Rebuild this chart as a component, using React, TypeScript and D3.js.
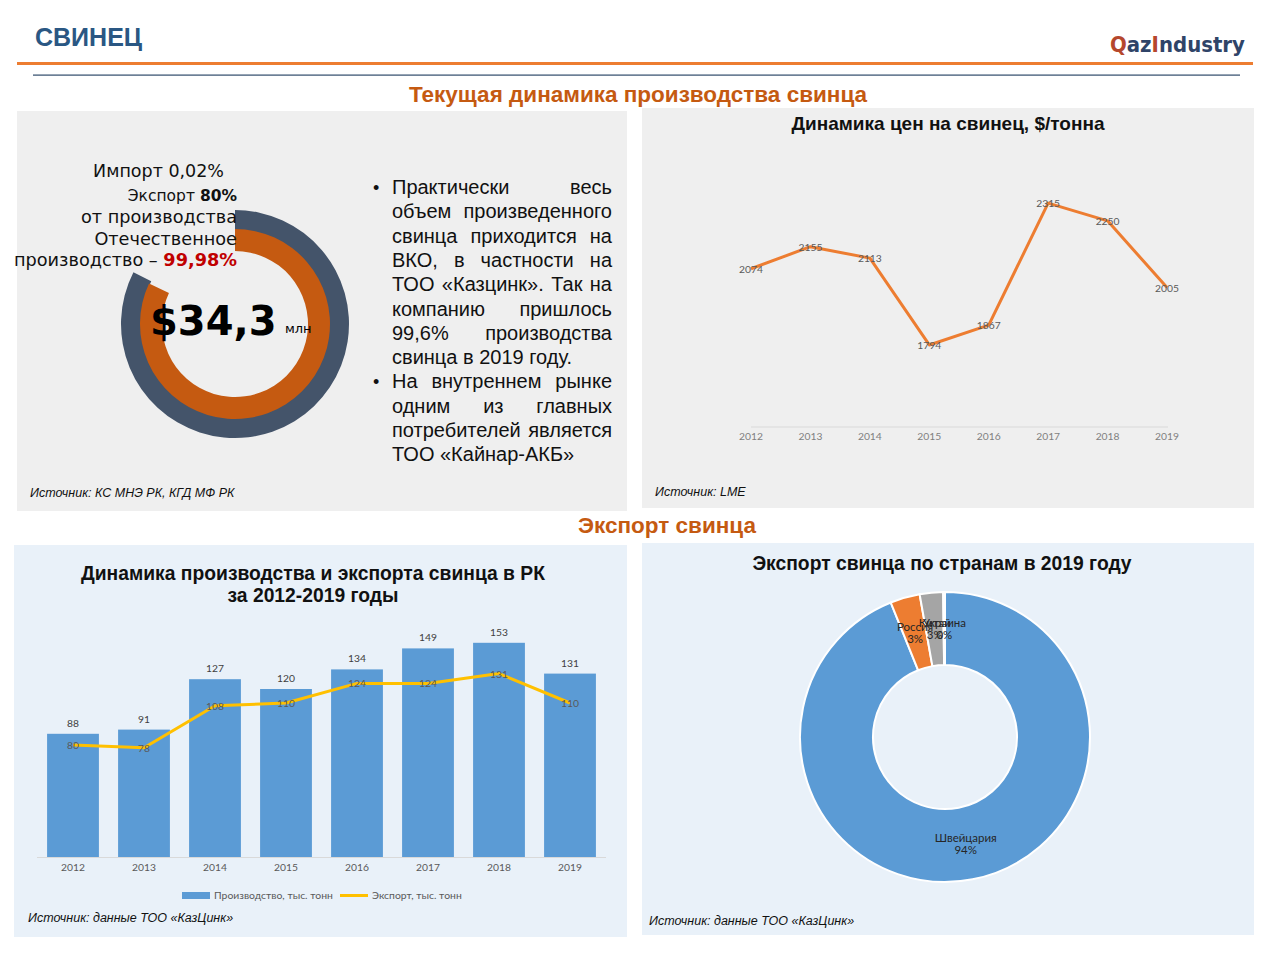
import React, { useEffect, useRef } from 'react';
import * as d3 from 'd3';

// ---- data ----
const years = ['2012', '2013', '2014', '2015', '2016', '2017', '2018', '2019'];
const leadPrice = [2074, 2155, 2113, 1794, 1867, 2315, 2250, 2005];
const production = [88, 91, 127, 120, 134, 149, 153, 131];
const exportVol = [80, 78, 108, 110, 124, 124, 131, 110];
const countries = ['Швейцария', 'Россия', 'Китай', 'Украина'];
const countryShare = [93.9, 3.3, 2.6, 0.2];
const countryLabel = ['94%', '3%', '3%', '0%'];
// share of the circle drawn by the two decorative rings (top-left)
const ringShare = [0.825, 0.82];

const bulletLines: { t: string; j: boolean; b?: boolean }[] = [
  { t: 'Практически весь', j: true, b: true },
  { t: 'объем произведенного', j: true },
  { t: 'свинца приходится на', j: true },
  { t: 'ВКО, в частности на', j: true },
  { t: 'ТОО «Казцинк». Так на', j: true },
  { t: 'компанию пришлось', j: true },
  { t: '99,6% производства', j: true },
  { t: 'свинца в 2019 году.', j: false },
  { t: 'На внутреннем рынке', j: true, b: true },
  { t: 'одним из главных', j: true },
  { t: 'потребителей является', j: true },
  { t: 'ТОО «Кайнар-АКБ»', j: false },
];

const ARIAL = '"Liberation Sans", Arial, sans-serif';
const DEJAVU = '"DejaVu Sans", sans-serif';
const LATO = 'Lato, "Open Sans", sans-serif';

const App: React.FC = () => {
  const textRef = useRef<SVGGElement>(null);

  useEffect(() => {
    // justify bullet lines by stretching word spacing
    const width = 220;
    d3.select(textRef.current)
      .selectAll<SVGTextElement, unknown>('text.just')
      .each(function () {
        const len = this.getComputedTextLength();
        const spaces = (this.textContent || '').split(' ').length - 1;
        if (spaces > 0) d3.select(this).attr('word-spacing', Math.max(0, (width - len) / spaces));
      });
  }, []);

  // top-left rings
  const ringCx = 235, ringCy = 324;
  const outerArc = d3.arc<any>().innerRadius(94).outerRadius(114).startAngle(0).endAngle(ringShare[0] * 2 * Math.PI);
  const innerArc = d3.arc<any>().innerRadius(73).outerRadius(95).startAngle(0).endAngle(ringShare[1] * 2 * Math.PI);

  // price line chart
  const xP = d3.scalePoint<string>().domain(years).range([751, 1167]);
  const yP = d3.scaleLinear().domain([1500, 2400]).range([425, 180]);
  const priceLine = d3.line<number>().x((_, i) => xP(years[i])!).y(d => yP(d));

  // production/export chart
  const xB = d3.scaleBand<string>().domain(years).range([37.5, 605.5]).paddingInner(0.27).paddingOuter(0.135);
  const yB = d3.scaleLinear().domain([0, 180]).range([857, 605]);
  const expLine = d3.line<number>().x((_, i) => xB(years[i])! + xB.bandwidth() / 2).y(d => yB(d));

  // export pie
  const pieCx = 945, pieCy = 737;
  const pie = d3.pie<number>().sort(null).value(d => d)(countryShare);
  const pieArc = d3.arc<d3.PieArcDatum<number>>().innerRadius(72).outerRadius(145);
  const pieColors = ['#5b9bd5', '#ed7d31', '#a5a5a5', '#ffc000'];

  return (
    <div style={{ position: 'absolute', left: 0, top: 0 }}>
      <svg width={1280} height={960} style={{ display: 'block', background: '#fff' }}>
        {/* header */}
        <text x={35} y={46} fontFamily={ARIAL} fontWeight="bold" fontSize={25} fill="#2a5783">СВИНЕЦ</text>
        <text x={1110} y={52} fontFamily={DEJAVU} fontWeight="bold" fontSize={21} textLength={135} lengthAdjust="spacingAndGlyphs">
          <tspan fill="#b5472d">Q</tspan><tspan fill="#2f4468">az</tspan><tspan fill="#b5472d">I</tspan><tspan fill="#2f4468">ndustry</tspan>
        </text>
        <rect x={17} y={62} width={1236} height={3} fill="#ed7d31" />
        <rect x={33} y={74.5} width={1207} height={1.2} fill="#2f4a6a" />
        <text x={638} y={102} textAnchor="middle" fontFamily={ARIAL} fontWeight="bold" fontSize={22.5} fill="#c55a11">Текущая динамика производства свинца</text>
        <text x={667} y={533} textAnchor="middle" fontFamily={ARIAL} fontWeight="bold" fontSize={22.5} fill="#c55a11">Экспорт свинца</text>

        {/* panels */}
        <rect x={17} y={111} width={610} height={400} fill="#efefef" />
        <rect x={642} y={108} width={612} height={400} fill="#efefef" />
        <rect x={14} y={545} width={613} height={392} fill="#e9f1f9" />
        <rect x={642} y={543} width={612} height={392} fill="#e9f1f9" />

        {/* top-left: rings */}
        <g transform={`translate(${ringCx},${ringCy})`}>
          <path d={outerArc(null as any) || ''} fill="#44546a" />
          <path d={innerArc(null as any) || ''} fill="#c55a11" />
        </g>
        <g fontFamily={DEJAVU} textAnchor="end" fill="#111">
          <text x={224} y={177} fontSize={17.5}>Импорт 0,02%</text>
          <text x={237} y={201} fontSize={15.5}>Экспорт <tspan fontWeight="bold">80%</tspan></text>
          <text x={237} y={223} fontSize={17.7}>от производства</text>
          <text x={237} y={245} fontSize={17.7}>Отечественное</text>
          <text x={237} y={266} fontSize={17.7}>производство – <tspan fontWeight="bold" fill="#c00000">99,98%</tspan></text>
        </g>
        <text x={150} y={335} fontFamily={DEJAVU} fontWeight="bold" fontSize={40} fill="#000">$34,3</text>
        <text x={285} y={333} fontFamily={DEJAVU} fontSize={13} fill="#000">млн</text>

        <g ref={textRef} fontFamily={ARIAL} fontSize={20} fill="#111">
          {bulletLines.map((l, i) => (
            <g key={i}>
              {l.b && <text x={373} y={194 + i * 24.3} fontSize={18}>•</text>}
              <text className={l.j ? 'just' : ''} x={392} y={194 + i * 24.3}>{l.t}</text>
            </g>
          ))}
        </g>
        <text x={30} y={497} fontFamily={ARIAL} fontStyle="italic" fontSize={12.5} fill="#111">Источник: КС МНЭ РК, КГД МФ РК</text>

        {/* top-right: price line */}
        <text x={948} y={130} textAnchor="middle" fontFamily={ARIAL} fontWeight="bold" fontSize={19} fill="#111">Динамика цен на свинец, $/тонна</text>
        <line x1={751} x2={1168} y1={427} y2={427} stroke="#d9d9d9" strokeWidth={1} />
        {years.map(y => (
          <text key={y} x={xP(y)} y={440} textAnchor="middle" fontFamily={LATO} fontSize={10.3} fill="#7f7f7f">{y}</text>
        ))}
        <path d={priceLine(leadPrice) || ''} fill="none" stroke="#ed7d31" strokeWidth={3} strokeLinejoin="round" />
        {leadPrice.map((v, i) => (
          <text key={i} x={xP(years[i])} y={yP(v) + 4} textAnchor="middle" fontFamily={LATO} fontSize={10.3} fill="#595959">{v}</text>
        ))}
        <text x={655} y={496} fontFamily={ARIAL} fontStyle="italic" fontSize={12.5} fill="#111">Источник: LME</text>

        {/* bottom-left: production & export */}
        <text x={313} y={580} textAnchor="middle" fontFamily={ARIAL} fontWeight="bold" fontSize={19.3} fill="#111">Динамика производства и экспорта свинца в РК</text>
        <text x={313} y={602} textAnchor="middle" fontFamily={ARIAL} fontWeight="bold" fontSize={19.3} fill="#111">за 2012-2019 годы</text>
        {production.map((v, i) => (
          <rect key={i} x={xB(years[i])} y={yB(v)} width={xB.bandwidth()} height={yB(0) - yB(v)} fill="#5b9bd5" />
        ))}
        <line x1={37} x2={606} y1={857.5} y2={857.5} stroke="#d9d9d9" strokeWidth={1} />
        {production.map((v, i) => (
          <text key={i} x={xB(years[i])! + xB.bandwidth() / 2} y={yB(v) - 7} textAnchor="middle" fontFamily={LATO} fontSize={10.3} fill="#404040">{v}</text>
        ))}
        <path d={expLine(exportVol) || ''} fill="none" stroke="#ffc000" strokeWidth={3} strokeLinejoin="round" />
        {exportVol.map((v, i) => (
          <text key={i} x={xB(years[i])! + xB.bandwidth() / 2} y={yB(v) + 4} textAnchor="middle" fontFamily={LATO} fontSize={10.3} fill="#595959">{v}</text>
        ))}
        {years.map(y => (
          <text key={y} x={xB(y)! + xB.bandwidth() / 2} y={871} textAnchor="middle" fontFamily={LATO} fontSize={10.3} fill="#595959">{y}</text>
        ))}
        <rect x={182} y={892} width={28} height={7} fill="#5b9bd5" />
        <text x={214} y={899} fontFamily={LATO} fontSize={10.4} fill="#595959">Производство, тыс. тонн</text>
        <line x1={340} x2={368} y1={895.5} y2={895.5} stroke="#ffc000" strokeWidth={3} />
        <text x={372} y={899} fontFamily={LATO} fontSize={10.4} fill="#595959">Экспорт, тыс. тонн</text>
        <text x={28} y={922} fontFamily={ARIAL} fontStyle="italic" fontSize={12.5} fill="#111">Источник: данные ТОО «КазЦинк»</text>

        {/* bottom-right: export by country */}
        <text x={942} y={570} textAnchor="middle" fontFamily={ARIAL} fontWeight="bold" fontSize={19.3} fill="#111">Экспорт свинца по странам в 2019 году</text>
        <g transform={`translate(${pieCx},${pieCy})`}>
          {pie.map((d, i) => (
            <path key={i} d={pieArc(d) || ''} fill={pieColors[i]} stroke="#fff" strokeWidth={2} />
          ))}
          {pie.map((d, i) => {
            const [cx, cy] = pieArc.centroid(d);
            return (
              <text key={i} textAnchor="middle" fontFamily={LATO} fontSize={11.5} fill="#262626">
                <tspan x={cx} y={cy - 2}>{countries[i]}</tspan>
                <tspan x={cx} y={cy + 10}>{countryLabel[i]}</tspan>
              </text>
            );
          })}
        </g>
        <text x={649} y={925} fontFamily={ARIAL} fontStyle="italic" fontSize={12.5} fill="#111">Источник: данные ТОО «КазЦинк»</text>
      </svg>
    </div>
  );
};

export default App;
